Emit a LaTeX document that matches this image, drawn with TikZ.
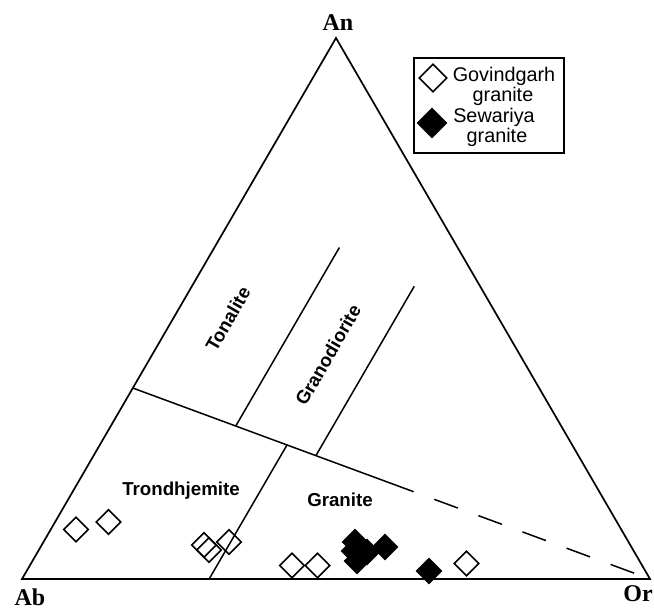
\documentclass[tikz,border=0pt]{standalone}
\usepackage{fontspec}
\setmainfont{Liberation Serif}
\newfontfamily\arialf{Liberation Sans}
\usetikzlibrary{calc,shapes.geometric}
\begin{document}
\begin{tikzpicture}[x=1pt,y=-1pt,
  edge/.style={line width=1.7pt, line join=miter},
  bound/.style={line width=1.5pt},
  opend/.style={draw, shape=diamond, minimum width=25pt, minimum height=25pt, inner sep=0pt, line width=1.6pt},
  filld/.style={opend, fill=black},
  apex/.style={font=\bfseries\fontsize{24}{24}\selectfont, inner sep=0pt},
  field/.style={font=\arialf\bfseries\fontsize{18.7}{20}\selectfont, inner sep=0pt},
  leg/.style={font=\arialf\fontsize{19.8}{20}\selectfont, anchor=base, inner sep=0pt}
]
\useasboundingbox (0,0) rectangle (654,608);
% triangle
\coordinate (Ab) at (22,579);
\coordinate (Or) at (650,579);
\coordinate (An) at (336,38);
\draw[edge] (Ab) -- (Or) -- (An) -- cycle;
% main boundary
\coordinate (L) at ($(Ab)!0.353!(An)$);
\coordinate (S) at ($(L)!0.543!(Or)$);
\draw[bound] (L) -- (S);
\draw[bound, dash pattern=on 25pt off 22pt, dash phase=25pt] (S) -- (Or);
% Trondhjemite / Granite
\coordinate (B1) at ($(Ab)!0.298!(Or)$);
\coordinate (B1u) at ($(B1)+(314,-541)$);
\coordinate (T1) at (intersection of B1--B1u and L--Or);
\draw[bound] (B1) -- (T1);
% Tonalite / Granodiorite
\coordinate (T2) at ($(L)!0.199!(Or)$);
\coordinate (T2u) at ($(T2)+(103.6,-178.5)$);
\draw[bound] (T2) -- (T2u);
% Granodiorite / Granite
\coordinate (T3) at ($(L)!0.354!(Or)$);
\coordinate (T3u) at ($(T3)+(98.3,-169.3)$);
\draw[bound] (T3) -- (T3u);
% field labels
\node[field, rotate=60] (ton) at (228,319) {Tonalite};
\node[field, rotate=60] (gd) at (328,355) {Granodiorite};
\node[field] (tr) at (181,491) {Trondhjemite};
\node[field] (gr) at (340,500) {Granite};
% apex labels
\node[apex] (lAn) at (338,23) {An};
\node[apex] (lAb) at (30,597) {Ab};
\node[apex] (lOr) at (638,594) {Or};
% legend
\node[draw, line width=1.6pt, minimum width=150pt, minimum height=95pt, inner sep=0pt, anchor=north west] (legbox) at (413,57) {};
\node[opend, minimum width=28pt, minimum height=28pt] (k1) at (433,78) {};
\node[filld, minimum width=29pt, minimum height=29pt] (k2) at (432,123) {};
\node[leg] (t1) at (504,81.5) {Govindgarh};
\node[leg] (t2) at (503,101.5) {granite};
\node[leg] (t3) at (494,122) {Sewariya};
\node[leg] (t4) at (497,142.5) {granite};
% Govindgarh granite (open)
\node[opend] (g1) at (76,529.5) {};
\node[opend] (g2) at (108.5,522) {};
\node[opend] (g3) at (204,545) {};
\node[opend] (g4) at (209,550) {};
\node[opend] (g5) at (229,542) {};
\node[opend] (g6) at (292,565.5) {};
\node[opend] (g7) at (317.5,565.5) {};
\node[opend] (g8) at (466.5,563.5) {};
% Sewariya granite (filled)
\node[filld] (s1) at (355,542) {};
\node[filld] (s2) at (354,551) {};
\node[filld] (s3) at (357,561) {};
\node[filld] (s4) at (367,552) {};
\node[filld] (s5) at (385,547) {};
\node[filld] (s6) at (429,571) {};
\end{tikzpicture}
\end{document}
